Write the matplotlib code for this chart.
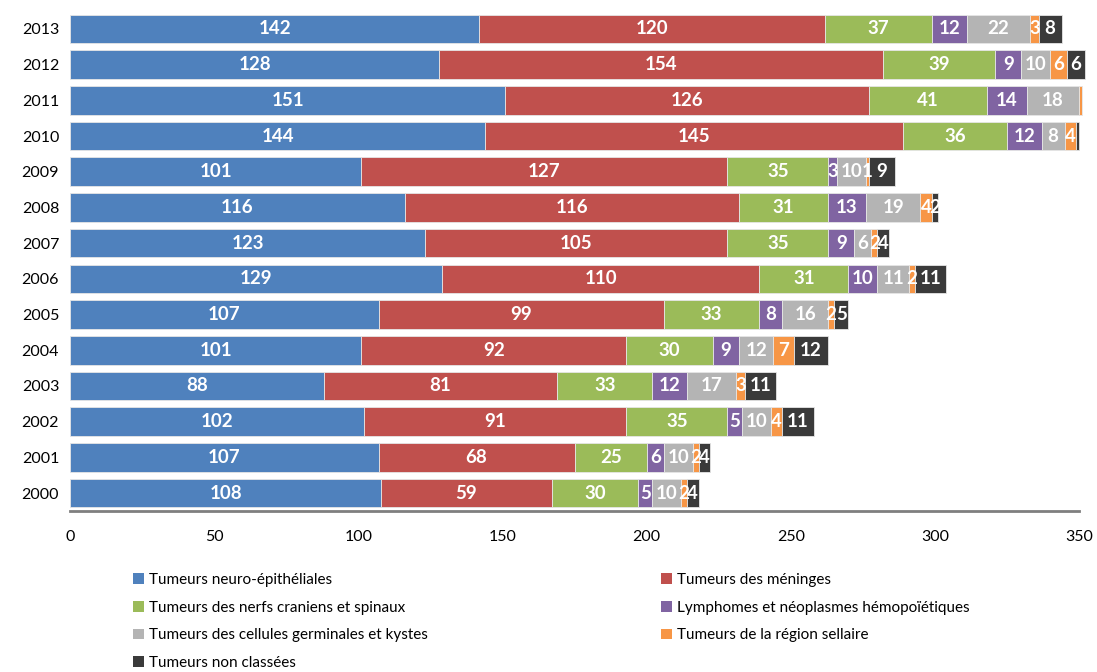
import numpy as np
import matplotlib.pyplot as plt
from matplotlib.patches import Patch

plt.rcParams['font.family'] = ['Lato', 'DejaVu Sans']

years = ['2000', '2001', '2002', '2003', '2004', '2005', '2006',
         '2007', '2008', '2009', '2010', '2011', '2012', '2013']

neuro = [108, 107, 102, 88, 101, 107, 129, 123, 116, 101, 144, 151, 128, 142]
meninges = [59, 68, 91, 81, 92, 99, 110, 105, 116, 127, 145, 126, 154, 120]
nerfs = [30, 25, 35, 33, 30, 33, 31, 35, 31, 35, 36, 41, 39, 37]
lymph = [5, 6, 5, 12, 9, 8, 10, 9, 13, 3, 12, 14, 9, 12]
germ = [10, 10, 10, 17, 12, 16, 11, 6, 19, 10, 8, 18, 10, 22]
sellaire = [2, 2, 4, 3, 7, 2, 2, 2, 4, 1, 4, 1, 6, 3]
nonclass = [4, 4, 11, 11, 12, 5, 11, 4, 2, 9, 1, 0, 6, 8]

series = [neuro, meninges, nerfs, lymph, germ, sellaire, nonclass]
names = ['Tumeurs neuro-épithéliales', 'Tumeurs des méninges',
         'Tumeurs des nerfs craniens et spinaux',
         'Lymphomes et néoplasmes hémopoïétiques',
         'Tumeurs des cellules germinales et kystes',
         'Tumeurs de la région sellaire', 'Tumeurs non classées']
colors = ['#4F81BD', '#C0504D', '#9BBB59', '#8064A2', '#B4B4B4', '#F79646', '#3A3A3A']

fig = plt.figure(figsize=(10.97, 6.72), dpi=100)
ax = fig.add_axes([0.064, 0.2396, 0.9196, 0.744])

y = np.arange(len(years))
left = np.zeros(len(years))
for vals, col in zip(series, colors):
    vals = np.array(vals)
    ax.barh(y, vals, left=left, height=0.8, color=col, edgecolor='#E6E6E6',
            linewidth=0.6, clip_on=False)
    for yi, (l, v) in enumerate(zip(left, vals)):
        # labels past the axis end are not shown in the original
        if v > 0 and l + v / 2 <= 349:
            ax.text(l + v / 2, yi, str(v), ha='center', va='center',
                    color='white', fontsize=13.5, fontweight='bold')
    left += vals

ax.set_xlim(0, 350)
ax.set_ylim(-0.5, len(years) - 0.5)
ax.set_yticks(y)
ax.set_yticklabels(years, fontsize=11.5)
ax.set_xticks(np.arange(0, 351, 50))
ax.tick_params(axis='x', labelsize=11.5, length=0, pad=14)
ax.tick_params(axis='y', length=0, pad=8)
for s in ['top', 'right', 'left']:
    ax.spines[s].set_visible(False)
ax.spines['bottom'].set_color('#7F7F7F')
ax.spines['bottom'].set_linewidth(2)

handles = [Patch(facecolor=c) for c in colors]
order = [0, 2, 4, 6, 1, 3, 5]
fig.legend([handles[i] for i in order], [names[i] for i in order],
           loc='upper left', bbox_to_anchor=(0.109, 0.168), ncol=2,
           frameon=False, fontsize=11, handlelength=0.7, handleheight=0.7,
           handletextpad=0.3, columnspacing=15.3, labelspacing=0.9)

fig.savefig('out.png', dpi=100)
